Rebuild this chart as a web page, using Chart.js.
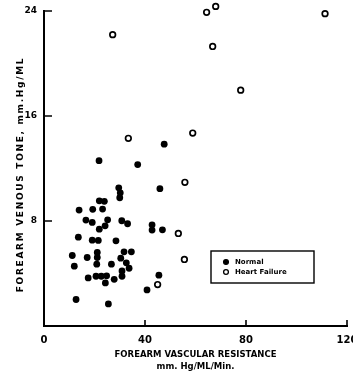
<!DOCTYPE html>
<html>
<head>
<meta charset="utf-8">
<script src="https://cdn.jsdelivr.net/npm/chart.js@4"></script>
<style>
html, body { margin: 0; padding: 0; background: #fff; }
#wrap { width: 353px; height: 374px; }
</style>
</head>
<body>
<div id="wrap"><canvas id="c"></canvas></div>
<script>
// Normal subjects
const normalX = [47.6, 21.8, 37.1, 45.9, 29.6, 30.2, 30.0, 21.9, 23.9, 13.9,
                 19.3, 23.2, 16.6, 19.1, 25.2, 24.2, 21.9, 30.8, 33.1, 42.8,
                 42.8, 46.9, 13.6, 19.1, 21.5, 28.5, 31.7, 34.6, 11.2, 17.1,
                 21.1, 21.1, 30.4, 12.0, 20.9, 26.7, 32.6, 33.7, 30.9, 30.9,
                 17.5, 20.6, 22.7, 24.8, 27.8, 24.3, 45.5, 40.8, 12.7, 25.5];
const normalY = [13.85, 12.6, 12.3, 10.46, 10.53, 10.15, 9.77, 9.54, 9.5, 8.83,
                 8.89, 8.91, 8.07, 7.89, 8.09, 7.63, 7.38, 8.02, 7.79, 7.71,
                 7.31, 7.33, 6.77, 6.54, 6.52, 6.49, 5.65, 5.65, 5.37, 5.22,
                 5.6, 5.22, 5.17, 4.56, 4.71, 4.71, 4.81, 4.4, 4.2, 3.79,
                 3.66, 3.79, 3.79, 3.82, 3.56, 3.28, 3.87, 2.75, 2.02, 1.68];

// Heart failure patients
const failureX = [27.2, 33.4, 58.9, 64.4, 68.0, 111.3, 66.8, 77.9, 55.8, 53.2, 55.6, 45.0];
const failureY = [22.2, 14.3, 14.7, 23.9, 24.35, 23.8, 21.3, 17.97, 10.95, 7.05, 5.07, 3.16];

const xTicks = [0, 40, 80, 120];
const yTicks = [0, 8, 16, 24];
const yTitle = 'FOREARM VENOUS TONE, mm.Hg/ML';

function toPoints(xs, ys) {
    return xs.map((x, i) => ({ x: x, y: ys[i] }));
}

// Titre vertical espacé, traits de graduation vers l'intérieur, légende encadrée
const decor = {
    id: 'decor',
    afterDraw(chart) {
        const ctx = chart.ctx;
        const xs = chart.scales.x;
        const ys = chart.scales.y;
        const area = chart.chartArea;
        ctx.save();
        ctx.fillStyle = '#000';
        ctx.strokeStyle = '#000';

        // titre de l'axe y
        ctx.save();
        ctx.translate(21, (area.top + area.bottom) / 2 + 6);
        ctx.rotate(-Math.PI / 2);
        ctx.letterSpacing = '1.7px';
        ctx.font = 'bold 9px "DejaVu Sans"';
        ctx.textAlign = 'center';
        ctx.textBaseline = 'middle';
        ctx.fillText(yTitle, 0, 0);
        ctx.restore();

        ctx.lineWidth = 1.6;
        ctx.beginPath();
        xTicks.filter(v => v > 0).forEach(v => {
            const px = xs.getPixelForValue(v);
            ctx.moveTo(px, area.bottom);
            ctx.lineTo(px, area.bottom - 6);
        });
        yTicks.filter(v => v > 0).forEach(v => {
            const py = ys.getPixelForValue(v);
            ctx.moveTo(area.left, py);
            ctx.lineTo(area.left + 8, py);
        });
        ctx.stroke();

        // légende
        const bx = area.left + 167;
        const by = area.top + 240;
        ctx.lineWidth = 1.4;
        ctx.strokeRect(bx, by, 103, 32);
        ctx.font = 'bold 7px "DejaVu Sans"';
        ctx.textBaseline = 'middle';
        chart.data.datasets.forEach((ds, i) => {
            const cy = by + 11 + i * 10;
            ctx.beginPath();
            ctx.arc(bx + 15, cy, 2.4, 0, Math.PI * 2);
            ctx.fillStyle = ds.backgroundColor;
            ctx.fill();
            ctx.lineWidth = 1.3;
            ctx.stroke();
            ctx.fillStyle = '#000';
            ctx.fillText(ds.label, bx + 24, cy);
        });
        ctx.restore();
    }
};

new Chart(document.getElementById('c'), {
    type: 'scatter',
    data: {
        datasets: [
            {
                label: 'Normal',
                data: toPoints(normalX, normalY),
                backgroundColor: '#000',
                borderColor: '#000',
                pointRadius: 3.4,
                borderWidth: 0,
                clip: false
            },
            {
                label: 'Heart Failure',
                data: toPoints(failureX, failureY),
                backgroundColor: '#fff',
                borderColor: '#000',
                pointRadius: 2.8,
                borderWidth: 1.7,
                clip: false
            }
        ]
    },
    options: {
        responsive: true,
        maintainAspectRatio: false,
        animation: false,
        devicePixelRatio: 1,
        layout: { padding: { left: 0, top: 11, right: 6, bottom: 0 } },
        plugins: {
            legend: { display: false },
            tooltip: { enabled: false }
        },
        scales: {
            x: {
                type: 'linear',
                min: 0,
                max: 120,
                afterBuildTicks: s => { s.ticks = xTicks.map(v => ({ value: v })); },
                afterFit: s => { s.height = 48; s.paddingLeft = 0; s.paddingRight = 0; },
                grid: { display: false, drawTicks: false },
                border: { display: true, color: '#000', width: 2 },
                ticks: {
                    color: '#000',
                    padding: 8,
                    maxRotation: 0,
                    font: { family: 'DejaVu Sans', weight: 'bold', size: 10 }
                },
                title: {
                    display: true,
                    text: ['FOREARM VASCULAR RESISTANCE', 'mm. Hg/ML/Min.'],
                    color: '#000',
                    padding: { top: 0, bottom: 1 },
                    font: { family: 'DejaVu Sans', weight: 'bold', size: 8.5, lineHeight: 1.45 }
                }
            },
            y: {
                min: 0,
                max: 24,
                afterBuildTicks: s => { s.ticks = yTicks.map(v => ({ value: v })); },
                afterFit: s => { s.width = 44; s.paddingTop = 0; s.paddingBottom = 0; },
                grid: { display: false, drawTicks: false },
                border: { display: true, color: '#000', width: 2 },
                ticks: {
                    color: '#000',
                    padding: 7,
                    font: { family: 'DejaVu Sans', weight: 'bold', size: 9 },
                    callback: v => (v === 0 ? '' : v)
                }
            }
        }
    },
    plugins: [decor]
});
</script>
</body>
</html>
